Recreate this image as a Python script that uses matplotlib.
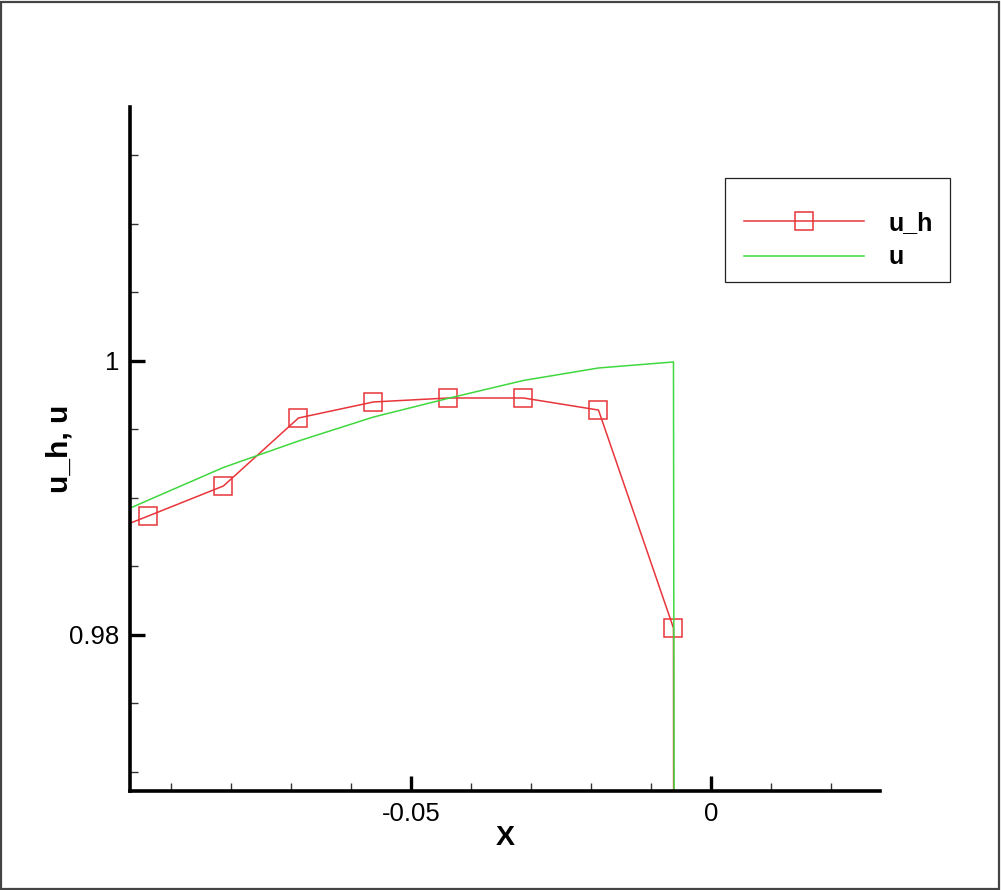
import matplotlib
matplotlib.use('Agg')
import matplotlib.pyplot as plt
from matplotlib.patches import Rectangle
from matplotlib.ticker import MultipleLocator, FuncFormatter

plt.rcParams['font.family'] = ['Liberation Sans', 'DejaVu Sans']

# cell centres (dx = 0.0125), first and last points fall outside the view
x_h = [-0.10625, -0.09375, -0.08125, -0.06875, -0.05625, -0.04375,
       -0.03125, -0.01875, -0.00625, -0.0055]
u_h = [0.98653, 0.98869, 0.99088, 0.99584, 0.99701, 0.99730,
       0.99730, 0.99642, 0.98051, 0.60]

x_u = [-0.10625, -0.09375, -0.08125, -0.06875, -0.05625, -0.04375,
       -0.03125, -0.01875, -0.00625, -0.0050]
u = [0.98744, 0.98985, 0.99223, 0.99416, 0.99591, 0.99728,
     0.99858, 0.99949, 0.99993, 0.60]

red = '#e8353a'
green = '#3fd83f'

W, H = 1001, 890
fig = plt.figure(figsize=(W/100, H/100), dpi=100)
fig.patches.append(Rectangle((0.001, 0.001), 0.997, 0.997, transform=fig.transFigure,
                             fill=False, edgecolor='#444444', linewidth=1.6))

ax = fig.add_axes([130/W, (H-790.7)/H, 750/W, (790.7-107)/H])

ax.plot(x_h, u_h, color=red, lw=1.1, marker='s', ms=12.5, mfc='none',
        mec=red, mew=1.1, markevery=list(range(1, 9)), label='u_h')
ax.plot(x_u, u, color=green, lw=1.1, label='u')

ax.set_xlim(-0.09683, 0.02817)
ax.set_ylim(0.968635, 1.01854)

for s in ['top', 'right']:
    ax.spines[s].set_visible(False)
for s in ['left', 'bottom']:
    ax.spines[s].set_linewidth(2.6)

ax.xaxis.set_major_locator(MultipleLocator(0.05))
ax.xaxis.set_minor_locator(MultipleLocator(0.01))
ax.yaxis.set_major_locator(MultipleLocator(0.02))
ax.yaxis.set_minor_locator(MultipleLocator(0.005))
fmt = FuncFormatter(lambda v, p: '%g' % round(v, 6))
ax.xaxis.set_major_formatter(fmt)
ax.yaxis.set_major_formatter(fmt)

ax.tick_params(which='major', direction='in', length=11, width=2.4, labelsize=18.5, pad=8)
ax.tick_params(which='minor', direction='in', length=6, width=1.0, color='#333333')

ax.set_xlabel('X', fontsize=20.5, fontweight='bold', va='center')
ax.xaxis.set_label_coords(0.5, -(838-790.7)/683.7)
ax.set_ylabel('u_h, u', fontsize=21.5, fontweight='bold', va='center')
ax.yaxis.set_label_coords(-(130-60)/750, 0.5)

# legend box drawn separately so its size matches the original
fig.patches.append(Rectangle((725/W, 1-282/H), 225/W, 104/H, transform=fig.transFigure,
                             fill=True, facecolor='white', edgecolor='#222222',
                             linewidth=0.9, zorder=3))
leg = fig.legend(*ax.get_legend_handles_labels(), loc='upper left',
                 bbox_to_anchor=(725/W, 1-192/H), frameon=False,
                 handlelength=4.8, handletextpad=0.96, borderpad=0.76,
                 borderaxespad=0, labelspacing=0.42, prop={'size': 18, 'weight': 'bold'})
leg.set_zorder(4)

fig.savefig('out.png', dpi=100)
